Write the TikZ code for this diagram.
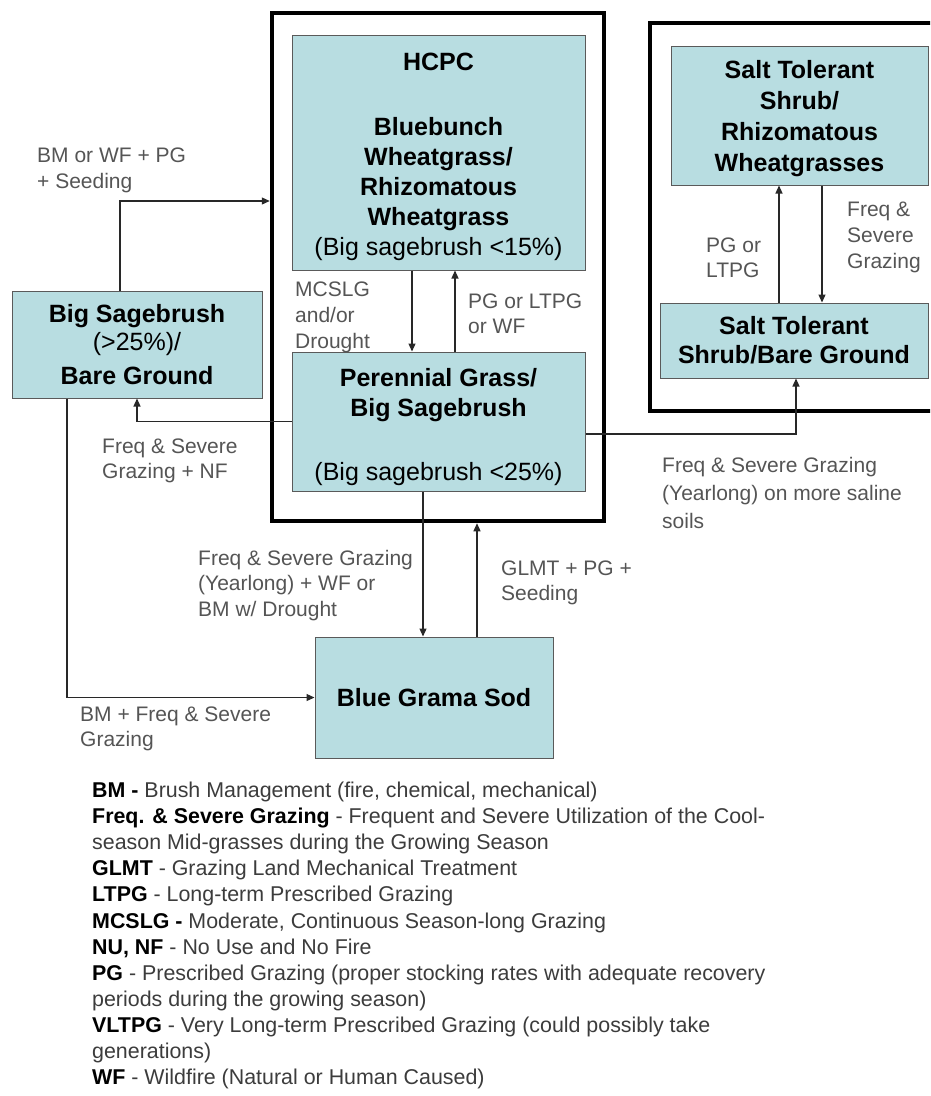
\documentclass[tikz,border=0pt]{standalone}
\usepackage{fontspec}
\setmainfont{Liberation Sans}
\usetikzlibrary{arrows.meta}
\definecolor{boxfill}{RGB}{184,221,225}
\definecolor{boxline}{RGB}{90,90,90}
\definecolor{labelgray}{RGB}{85,85,85}
\definecolor{legendgray}{RGB}{60,60,60}
\definecolor{wire}{RGB}{40,40,40}

\begin{document}
\begin{tikzpicture}[x=1pt,y=-1pt,
  state/.style={draw=boxline, line width=1pt, fill=boxfill, inner sep=0pt,
    align=center, text=black, font=\fontsize{25}{30}\selectfont\bfseries},
  frame/.style={draw=black, line width=4.5pt, inner sep=0pt},
  arr/.style={draw=wire, line width=1.2pt, -{Triangle[length=8pt,width=7pt]}},
  lbl/.style={anchor=west, inner sep=0pt, align=left, text=labelgray,
    font=\fontsize{21}{25.5}\selectfont},
]
\useasboundingbox (0,0) rectangle (930,1096);
\path[clip] (0,0) rectangle (930,1096);
\fill[white] (0,0) rectangle (930,1096);

% group frames
\node[frame, minimum width=332pt, minimum height=508pt] (hcpcgrp) at (438,267) {};
\node[frame, minimum width=310pt, minimum height=388pt] (saltgrp) at (805,217) {};

% states (a zero-width rule on the first line sets the text block lower)
\node[state, minimum width=293pt, minimum height=235pt] (hcpc) at (438.5,152.5)
  {\rule{0pt}{26pt}HCPC\\[35pt]Bluebunch\\Wheatgrass/\\Rhizomatous\\Wheatgrass\\\mdseries(Big sagebrush <15\%)};
\node[state, minimum width=293pt, minimum height=139pt] (pgbs) at (438.5,421.5)
  {\rule{0pt}{30pt}Perennial Grass/\\Big Sagebrush\\[34pt]\mdseries(Big sagebrush <25\%)};
\node[state, minimum width=250pt, minimum height=107pt] (bsbg) at (137,344.5)
  {Big Sagebrush\\[-2pt]{\mdseries(>25\%)/}\\[4pt]Bare Ground};
\node[state, minimum width=238pt, minimum height=121pt] (bgs) at (434,697.5)
  {Blue Grama Sod};
\node[state, minimum width=257pt, minimum height=139pt,
  font=\fontsize{25}{31}\selectfont\bfseries] (stw) at (799.5,115.5)
  {\rule{0pt}{24pt}Salt Tolerant\\Shrub/\\Rhizomatous\\Wheatgrasses};
\node[state, minimum width=268pt, minimum height=75pt,
  font=\fontsize{25}{29}\selectfont\bfseries] (stb) at (794,340.5)
  {Salt Tolerant\\Shrub/Bare Ground};

% bend points and arrow columns
\coordinate (bendA) at (120,201);
\coordinate (bendB) at (67,698);
\coordinate (bendC) at (796,434);
\coordinate (xA) at (412,0);
\coordinate (xB) at (455,0);
\coordinate (xC) at (423,0);
\coordinate (xD) at (477,0);
\coordinate (xE) at (779,0);
\coordinate (xF) at (822,0);

% transitions
\draw[arr] (bendA |- bsbg.north) -- (bendA) -- (bendA -| hcpcgrp.west);
\draw[arr] (pgbs.west) -| (bsbg.south);
\draw[arr] (bendB |- bsbg.south) |- (bgs.west);
\draw[arr] (xA |- hcpc.south) -- (xA |- pgbs.north);
\draw[arr] (xB |- pgbs.north) -- (xB |- hcpc.south);
\draw[arr] (xC |- pgbs.south) -- (xC |- bgs.north);
\draw[arr] (xD |- bgs.north) -- (xD |- hcpcgrp.south);
\draw[arr] (bendC -| pgbs.east) -- (bendC) -- (bendC |- stb.south);
\draw[arr] (xE |- stb.north) -- (xE |- stw.south);
\draw[arr] (xF |- stw.south) -- (xF |- stb.north);

% transition labels
\node[lbl, font=\fontsize{21}{26}\selectfont] (t1) at (37,170.5) {BM or WF + PG\\+ Seeding};
\node[lbl] (t2) at (102,461) {Freq \& Severe\\Grazing + NF};
\node[lbl, font=\fontsize{21}{26}\selectfont] (t3) at (295,317) {MCSLG\\and/or\\Drought};
\node[lbl] (t4) at (468,314) {PG or LTPG\\or WF};
\node[lbl] (t5) at (706,258) {PG or\\LTPG};
\node[lbl, font=\fontsize{21}{26}\selectfont] (t6) at (847,237.5) {Freq \&\\Severe\\Grazing};
\node[lbl, font=\fontsize{21}{28}\selectfont] (t7) at (662,493) {Freq \& Severe Grazing\\(Yearlong) on more saline\\soils};
\node[lbl] (t8) at (198,585.5) {Freq \& Severe Grazing\\(Yearlong) + WF or\\BM w/ Drought};
\node[lbl] (t9) at (501,583) {GLMT + PG +\\Seeding};
\node[lbl] (t10) at (80,729) {BM + Freq \& Severe\\Grazing};

% abbreviations
\node[anchor=west, inner sep=0pt, align=left, text=legendgray,
  font=\fontsize{21.4}{26.1}\selectfont] (legend) at (92,935.5)
  {{\color{black}\bfseries BM -} Brush Management (fire, chemical, mechanical)\\
   {\color{black}\bfseries Freq. \& Severe Grazing} - Frequent and Severe Utilization of the Cool-\\
   season Mid-grasses during the Growing Season\\
   {\color{black}\bfseries GLMT} - Grazing Land Mechanical Treatment\\
   {\color{black}\bfseries LTPG} - Long-term Prescribed Grazing\\
   {\color{black}\bfseries MCSLG -} Moderate, Continuous Season-long Grazing\\
   {\color{black}\bfseries NU, NF} - No Use and No Fire\\
   {\color{black}\bfseries PG} - Prescribed Grazing (proper stocking rates with adequate recovery\\
   periods during the growing season)\\
   {\color{black}\bfseries VLTPG} - Very Long-term Prescribed Grazing (could possibly take\\
   generations)\\
   {\color{black}\bfseries WF} - Wildfire (Natural or Human Caused)};
\end{tikzpicture}
\end{document}
